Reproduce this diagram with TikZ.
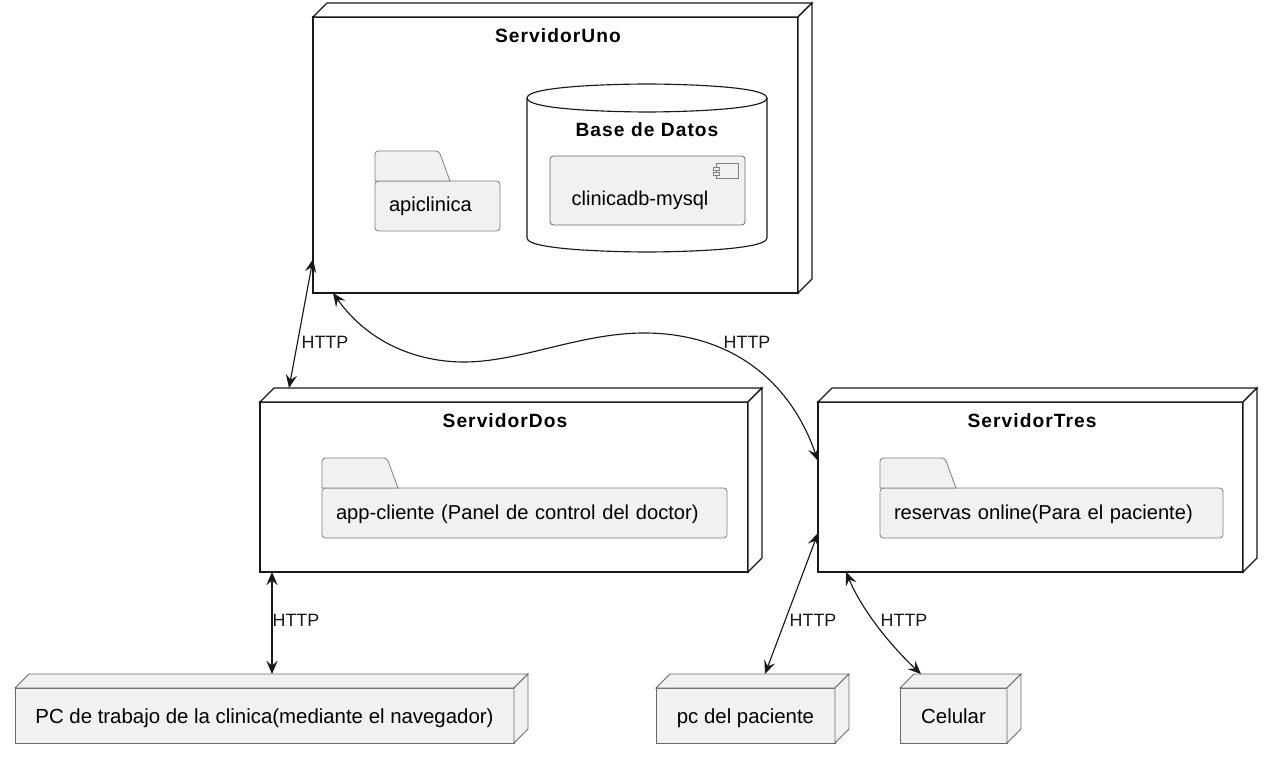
\documentclass[tikz,border=0pt]{standalone}
\usepackage{fontspec}
\setmainfont{Liberation Sans}
\newfontfamily\titlefont[LetterSpace=5.5]{Liberation Sans Bold}
\usetikzlibrary{positioning,arrows.meta}

\definecolor{boxgrey}{HTML}{F1F1F1}
\definecolor{inkdark}{HTML}{181818}

\tikzset{
  size/.style 2 args={minimum width=#1*0.75pt, minimum height=#2*0.75pt},
  plain/.style={draw=inkdark, line width=0.85pt, fill=white, inner sep=0pt, outer sep=0pt, anchor=north west},
  device/.style={draw=inkdark!65, line width=0.6pt, fill=boxgrey, inner sep=0pt, outer sep=0pt, anchor=north west, font=\fontsize{15.3}{18}\selectfont, text height=13.5pt, text depth=1pt},
  folderbody/.style={draw=inkdark!55, line width=0.6pt, fill=boxgrey, rounded corners=2.5pt, outer sep=0pt, anchor=north west,
    minimum height=50*0.75pt, inner xsep=14*0.75pt, inner ysep=0pt, text width=#1*0.75pt-21pt, align=left, font=\fontsize{15.1}{18}\selectfont, text height=11.5pt, text depth=2.5pt},
  foldertab/.style={draw=inkdark!55, line width=0.6pt, fill=boxgrey},
  iconpart/.style={draw=inkdark!55, line width=0.6pt, fill=boxgrey},
  nodetitle/.style={font=\titlefont\fontsize{14.4}{17}\selectfont, inner sep=0pt},
  httplabel/.style={font=\fontsize{13.4}{16}\selectfont, inner sep=0pt, text=inkdark},
  link/.style={draw=inkdark, line width=0.85pt, {Stealth[length=10pt,width=8.5pt,inset=3.8pt]}-{Stealth[length=10pt,width=8.5pt,inset=3.8pt]}}
}

% side and top faces of a box
\newcommand{\nodedepth}[2]{
  \draw[#2] (#1.north west) -- ++(14,-14) -- ([shift={(14,-14)}]#1.north east) -- (#1.north east) -- cycle;
  \draw[#2] (#1.north east) -- ++(14,-14) -- ([shift={(14,-14)}]#1.south east) -- (#1.south east) -- cycle;
}
% folder tab sits on the upper edge of the body
\newcommand{\foldertop}[2]{
  \draw[foldertab, rounded corners=2.5pt] (#1.north west) -- ++(0,-30) -- ([shift={(#2-11,-30)}]#1.north west) [sharp corners] -- ([shift={(#2,0)}]#1.north west) -- cycle;
}

\begin{document}
\begin{tikzpicture}[x=0.75pt,y=-0.75pt]
\useasboundingbox (0,0) rectangle (1276,762);

% servers
\node[plain, size={485}{276}] (uno) at (313,17) {};
\nodedepth{uno}{plain}
\node[plain, size={488}{170}] (dos) at (260,402) {};
\nodedepth{dos}{plain}
\node[plain, size={425}{170}] (tres) at (818,402) {};
\nodedepth{tres}{plain}

\node[nodetitle] (unotitle) at (558,35.5) {ServidorUno};
\node[nodetitle] (dostitle) at (505,420.5) {ServidorDos};
\node[nodetitle] (trestitle) at (1032,420.5) {ServidorTres};

% database
\draw[plain] (527,98) .. controls (527,84) and (647,84) .. (647,84) .. controls (647,84) and (767,84) .. (767,98)
  -- (767,238) .. controls (767,252) and (647,252) .. (647,252) .. controls (647,252) and (527,252) .. (527,238) -- cycle;
\draw[inkdark, line width=0.85pt] (527,98) .. controls (527,112) and (647,112) .. (647,112) .. controls (647,112) and (767,112) .. (767,98);
\node[nodetitle] (dbtitle) at (647,129.5) {Base de Datos};

\node[device, rounded corners=2.5pt, size={195}{69}] (mysql) at (550,156) {};
\node[font=\fontsize{15}{18}\selectfont, inner sep=0pt] (mysqltext) at (640,200) {clinicadb-mysql};
\draw[iconpart] (716,163) rectangle (738,178);
\draw[iconpart] (713,167) rectangle (719,170);
\draw[iconpart] (713,172) rectangle (719,175);

% folders
\node[folderbody=125] (api) at (375,181) {apiclinica};
\foldertop{api}{75}
\node[folderbody=405] (appcliente) at (322,488) {app-cliente (Panel de control del doctor)};
\foldertop{appcliente}{76}
\node[folderbody=343] (reservas) at (880,488) {reservas online(Para el paciente)};
\foldertop{reservas}{76}

% devices
\node[device, size={499}{55}] (pc) at (15,688) {PC de trabajo de la clinica(mediante el navegador)};
\nodedepth{pc}{device}
\node[device, size={179}{55}] (pcpac) at (656,688) {pc del paciente};
\nodedepth{pcpac}{device}
\node[device, size={107}{55}] (celular) at (900,688) {Celular};
\nodedepth{celular}{device}

% connectors
\draw[link] ([shift={(0,242)}]uno.north west) -- ([shift={(29,-14)}]dos.north west);
\draw[link] ([shift={(20,0)}]uno.south west) .. controls (370,345) and (420,362) .. (464,362)
  .. controls (520,362) and (580,333) .. (644,333) .. controls (730,333) and (790,380) .. ([shift={(0,59)}]tres.north west);
\draw[link] ([shift={(12,0)}]dos.south west) -- ([shift={(257,-14)}]pc.north west);
\draw[link] ([shift={(0,131)}]tres.north west) -- ([shift={(109,-14)}]pcpac.north west);
\draw[link] ([shift={(28,0)}]tres.south west) .. controls (862,610) and (890,645) .. ([shift={(21,-14)}]celular.north west);

\node[httplabel] (http1) at (325,342) {HTTP};
\node[httplabel] (http2) at (747,342) {HTTP};
\node[httplabel] (http3) at (296,620) {HTTP};
\node[httplabel] (http4) at (813,620) {HTTP};
\node[httplabel] (http5) at (904,620) {HTTP};
\end{tikzpicture}
\end{document}
